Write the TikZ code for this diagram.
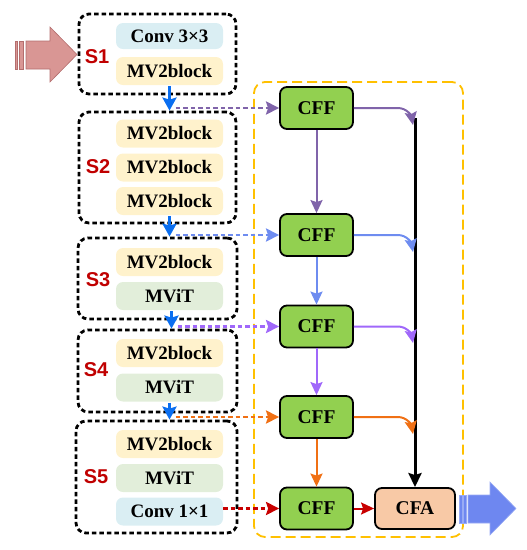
\documentclass[tikz,border=0pt]{standalone}
\usepackage{fontspec}
\setmainfont{Liberation Serif}
\newfontfamily\labfont{Liberation Sans}
\usetikzlibrary{arrows.meta,calc}
\definecolor{convc}{RGB}{218,238,243}
\definecolor{mvc}{RGB}{255,242,204}
\definecolor{vitc}{RGB}{226,238,218}
\definecolor{cffc}{RGB}{146,208,80}
\definecolor{cfac}{RGB}{248,201,166}
\definecolor{boxor}{RGB}{255,192,0}
\definecolor{labred}{RGB}{192,0,0}
\definecolor{stblue}{RGB}{10,110,240}
\definecolor{cpur}{RGB}{128,100,170}
\definecolor{cblu}{RGB}{110,140,240}
\definecolor{cvio}{RGB}{160,104,250}
\definecolor{cora}{RGB}{240,112,20}
\definecolor{cred}{RGB}{200,0,0}
\definecolor{inarrow}{RGB}{217,150,148}
\definecolor{inedge}{RGB}{180,110,110}
\definecolor{outarrow}{RGB}{110,135,240}
\begin{document}
\begin{tikzpicture}[x=1pt,y=-1pt,
  block/.style={rounded corners=7pt,minimum width=107pt,minimum height=28pt,inner sep=0pt,
     font=\fontsize{19}{20}\selectfont\bfseries},
  stage/.style={draw=black,line width=2.8pt,dash pattern=on 4.5pt off 3pt,rounded corners=10pt,inner sep=0pt},
  slab/.style={text=labred,font=\labfont\fontsize{20}{22}\selectfont\bfseries},
  cffbox/.style={draw=black,line width=1.8pt,fill=cffc,rounded corners=7pt,minimum width=73pt,minimum height=42pt,
     inner sep=0pt,font=\fontsize{19.5}{20}\selectfont\bfseries},
  starr/.style={draw=stblue,line width=3pt,-{Stealth[length=13pt,width=14pt,inset=2pt]}},
  dinp/.style={line width=2.8pt,dash pattern=on 4.5pt off 3pt,-{Stealth[length=13pt,width=13pt,inset=2pt]}},
  flow/.style={line width=2pt,-{Stealth[length=13pt,width=12pt,inset=2pt]}}
]
\useasboundingbox (0,0) rectangle (527,550);
% stage boxes
\node[stage,minimum width=157pt,minimum height=80pt] (s1) at (157.5,54) {};
\node[stage,minimum width=157pt,minimum height=111pt] (s2) at (157.5,167.5) {};
\node[stage,minimum width=159pt,minimum height=81pt] (s3) at (157.5,278.5) {};
\node[stage,minimum width=159pt,minimum height=82pt] (s4) at (157.5,371) {};
\node[stage,minimum width=161pt,minimum height=112pt] (s5) at (156.5,477) {};
% labels
\node[slab] (l1) at (97,57) {S1};
\node[slab] (l2) at (98,167) {S2};
\node[slab] (l3) at (98,280) {S3};
\node[slab] (l4) at (96,370) {S4};
\node[slab] (l5) at (96,477) {S5};
% blocks
\node[block,fill=convc,minimum height=26pt] (c3) at (169.5,36) {Conv 3×3};
\node[block,fill=mvc] (m1) at (169.5,71) {MV2block};
\node[block,fill=mvc] (m2a) at (169.5,133.5) {MV2block};
\node[block,fill=mvc] (m2b) at (169.5,167.5) {MV2block};
\node[block,fill=mvc] (m2c) at (169.5,201) {MV2block};
\node[block,fill=mvc] (m3) at (169.5,262) {MV2block};
\node[block,fill=vitc] (v3) at (169.5,296) {MViT};
\node[block,fill=mvc] (m4) at (169.5,353) {MV2block};
\node[block,fill=vitc] (v4) at (169.5,387.5) {MViT};
\node[block,fill=mvc] (m5) at (169.5,444) {MV2block};
\node[block,fill=vitc] (v5) at (169.5,478) {MViT};
\node[block,fill=convc] (c1) at (169.5,511.5) {Conv 1×1};
% orange dashed box
\node[draw=boxor,line width=1.8pt,dash pattern=on 10pt off 5pt,rounded corners=11pt,
  minimum width=209pt,minimum height=455pt,inner sep=0pt] (fbox) at (358.5,309.5) {};
% CFF nodes
\node[cffbox] (f1) at (316.5,108) {CFF};
\node[cffbox] (f2) at (316.5,235) {CFF};
\node[cffbox] (f3) at (316.5,326.5) {CFF};
\node[cffbox] (f4) at (316.5,417) {CFF};
\node[cffbox] (f5) at (316.5,508.5) {CFF};
\node[cffbox,fill=cfac,minimum width=80pt,minimum height=41pt] (cfa) at (415,508.5) {CFA};
% stage arrows
\draw[starr] ($(m1.south)+(0,1)$) -- (s2.north -| m1.center);
\draw[starr] ($(m2c.south)+(0,1)$) -- (s3.north -| m1.center);
\draw[starr] ($(v3.south)+(2,1)$) -- ($(s4.north -| m1.center)+(2,0)$);
\draw[starr] ($(v4.south)+(0,1)$) -- (s5.north -| m1.center);
% dashed inputs
\draw[dinp,cpur] ($(f1.west -| m1.center)+(6,0)$) -- (f1.west);
\draw[dinp,cblu] ($(f2.west -| m1.center)+(6,0)$) -- (f2.west);
\draw[dinp,cvio] ($(f3.west -| m1.center)+(8,0)$) -- (f3.west);
\draw[dinp,cora] ($(f4.west -| m1.center)+(6,0)$) -- (f4.west);
\draw[dinp,cred] (c1.east |- f5.west) -- (f5.west);
% vertical CFF flow
\draw[flow,cpur] (f1.south) -- (f2.north);
\draw[flow,cblu] (f2.south) -- (f3.north);
\draw[flow,cvio] (f3.south) -- (f4.north);
\draw[flow,cora] (f4.south) -- (f5.north);
\draw[flow,cred] (f5.east) -- (cfa.west);
% black trunk
\coordinate (jtop) at (415,118);
\draw[line width=3pt,-{Stealth[length=14pt,width=13pt,inset=2pt]}] (jtop) -- (cfa.north);
% right branches
\draw[flow,cpur] (f1.east) -- (398,108) to[out=0,in=100] (413,125);
\draw[flow,cblu] (f2.east) -- (398,235) to[out=0,in=100] (413,252);
\draw[flow,cvio] (f3.east) -- (398,326.5) to[out=0,in=100] (413,343);
\draw[flow,cora] (f4.east) -- (398,417) to[out=0,in=100] (413,434);
% input arrow
\fill[inarrow,draw=inedge,line width=0.6pt] (15,41) rectangle (17,69);
\fill[inarrow,draw=inedge,line width=0.6pt] (19,41) rectangle (23,69);
\fill[inarrow,draw=inedge,line width=0.6pt] (26,41) -- (50,41) -- (50,27) -- (77,54.5) -- (50,82) -- (50,69) -- (26,69) -- cycle;
% output arrow
\fill[outarrow,draw=outarrow!70!white,line width=0.6pt] (459,495) rectangle (462,523);
\fill[outarrow,draw=outarrow!70!white,line width=0.6pt] (463.5,495) rectangle (466.5,523);
\fill[outarrow,draw=outarrow!70!white,line width=0.6pt] (468,495) -- (490,495) -- (490,482) -- (516,508.5) -- (490,535) -- (490,523) -- (468,523) -- cycle;
\end{tikzpicture}
\end{document}
